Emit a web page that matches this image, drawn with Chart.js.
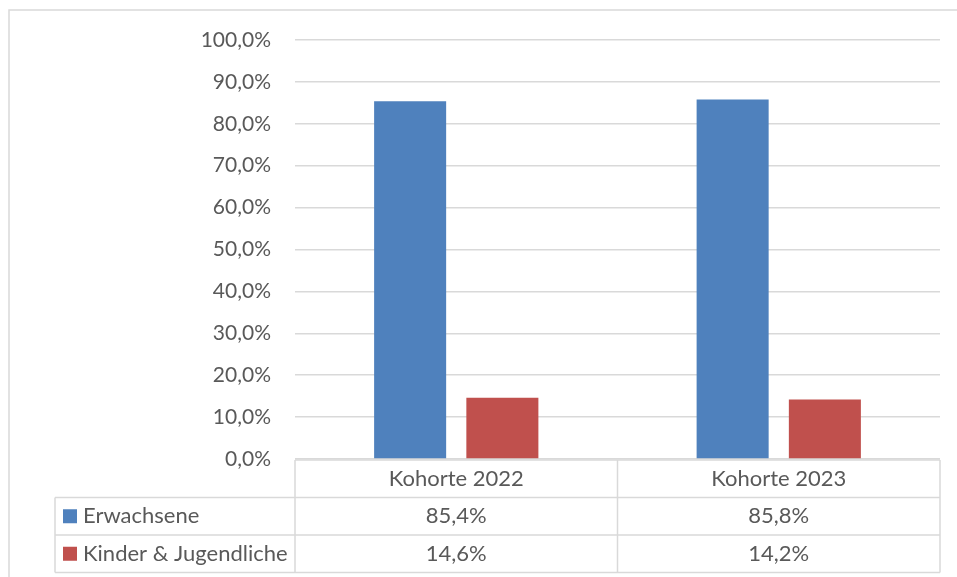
<!DOCTYPE html>
<html>
<head>
<meta charset="utf-8">
<script src="https://cdn.jsdelivr.net/npm/chart.js@4"></script>
<style>
  html, body { margin: 0; padding: 0; background: #fff; }
  #wrap { width: 957px; height: 577px; }
</style>
</head>
<body>
<div id="wrap"><canvas id="myChart" width="957" height="577"></canvas></div>
<script>
const categories = ["Kohorte 2022", "Kohorte 2023"]
const seriesNames = ["Erwachsene", "Kinder & Jugendliche"]
const erwachsene = [85.4, 85.8]
const kinder = [14.6, 14.2]
const yTicks = [0, 10, 20, 30, 40, 50, 60, 70, 80, 90, 100]

const colors = ["#4F81BD", "#C0504D"]
const textColor = "#595959"
const lineColor = "#d9d9d9"
const fontFamily = "Lato, 'Open Sans', sans-serif"
const fontSize = 21
const tableFontSize = 22

const fmt = v => v.toFixed(1).replace(".", ",") + "%"

// border of the whole chart + data table under the plot
const tablePlugin = {
    id: "dataTable",
    beforeDraw(chart) {
        const c = chart.ctx
        c.save()
        c.strokeStyle = lineColor
        c.lineWidth = 1.5
        c.strokeRect(9, 10, 960, 580)
        c.restore()
    },
    afterDraw(chart) {
        const c = chart.ctx
        const area = chart.chartArea
        const top = area.bottom + 1
        const rowH = 37.5
        const tableLeft = 55
        const colW = (area.right - area.left) / categories.length
        const rows = [erwachsene, kinder]

        c.save()
        c.strokeStyle = lineColor
        c.lineWidth = 1.5
        c.beginPath()
        // header row
        c.moveTo(area.left, top); c.lineTo(area.right, top)
        for (let r = 1; r <= rows.length + 1; r++) {
            c.moveTo(tableLeft, top + rowH * r); c.lineTo(area.right, top + rowH * r)
        }
        for (let i = 0; i <= categories.length; i++) {
            const x = area.left + colW * i
            c.moveTo(x, top); c.lineTo(x, top + rowH * (rows.length + 1))
        }
        c.moveTo(tableLeft, top + rowH); c.lineTo(tableLeft, top + rowH * (rows.length + 1))
        c.stroke()

        c.fillStyle = textColor
        c.font = tableFontSize + "px " + fontFamily
        c.textBaseline = "middle"
        c.textAlign = "center"
        categories.forEach((cat, i) => {
            c.fillText(cat, area.left + colW * (i + 0.5), top + rowH / 2)
        })
        rows.forEach((vals, r) => {
            const yMid = top + rowH * (r + 1.5)
            vals.forEach((v, i) => {
                c.textAlign = "center"
                c.fillStyle = textColor
                c.fillText(fmt(v), area.left + colW * (i + 0.5), yMid)
            })
            c.fillStyle = colors[r]
            c.fillRect(63, yMid - 7, 14, 14)
            c.fillStyle = textColor
            c.textAlign = "left"
            c.fillText(seriesNames[r], 83, yMid)
        })
        c.restore()
    }
}

const ctx = document.getElementById("myChart").getContext("2d")
const myChart = new Chart(ctx, {
    type: "bar",
    data: {
        labels: categories,
        datasets: [
            { label: seriesNames[0], data: erwachsene, backgroundColor: colors[0] },
            { label: seriesNames[1], data: kinder, backgroundColor: colors[1] }
        ]
    },
    options: {
        responsive: false,
        animation: false,
        layout: { padding: { left: 0, top: 40, right: 17, bottom: 118 } },
        datasets: { bar: { categoryPercentage: 0.572, barPercentage: 0.781 } },
        plugins: { legend: { display: false }, tooltip: { enabled: false } },
        scales: {
            x: { display: false },
            y: {
                min: 0,
                max: 100,
                afterFit(scale) { scale.width = 295 },
                afterBuildTicks(scale) { scale.ticks = yTicks.map(v => ({ value: v })) },
                ticks: {
                    padding: 24,
                    color: textColor,
                    font: { family: fontFamily, size: fontSize },
                    callback: v => fmt(v)
                },
                grid: { color: lineColor, lineWidth: 1.5, drawTicks: false },
                border: { display: false }
            }
        }
    },
    plugins: [tablePlugin]
})
</script>
</body>
</html>
